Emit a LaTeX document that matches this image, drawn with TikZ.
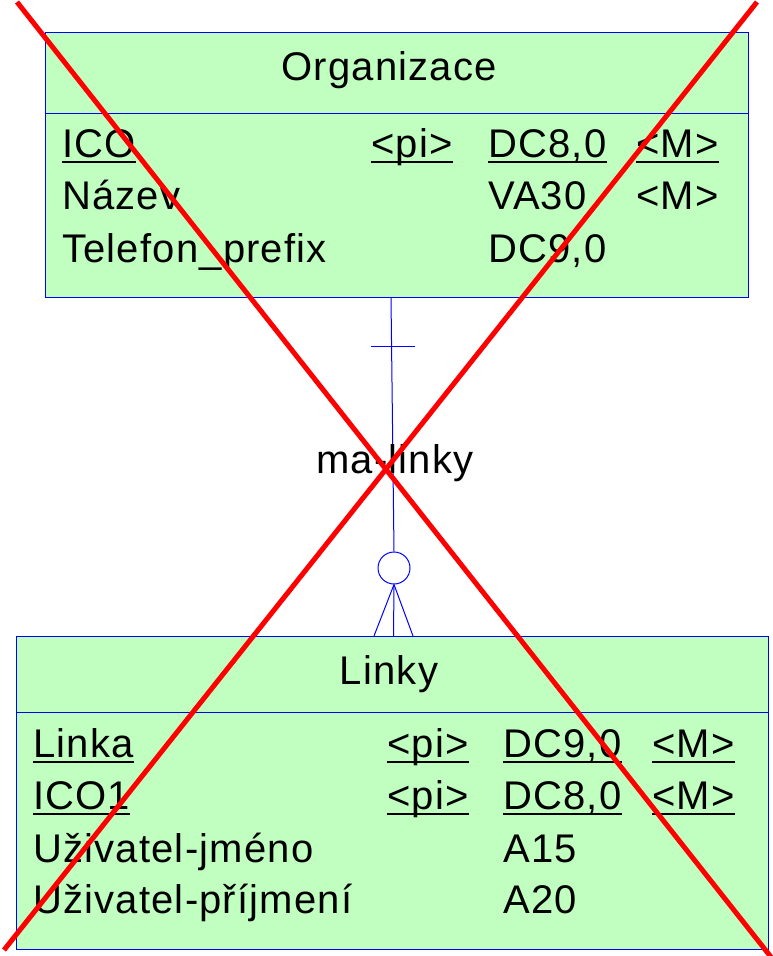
\documentclass[tikz,border=0pt]{standalone}
\usepackage{fontspec}
\setmainfont{Liberation Sans}[LetterSpace=3]
\definecolor{egreen}{RGB}{192,255,192}
\begin{document}
\begin{tikzpicture}[x=1pt,y=-1pt,
  entity/.style={draw=blue, line width=1pt, fill=egreen, inner sep=0pt, anchor=north west},
  txt/.style={anchor=base west, inner sep=0pt, font=\fontsize{40}{48}\selectfont},
  ttl/.style={txt, anchor=base},
  ul/.style={line width=2.5pt},
  conn/.style={draw=blue, line width=1pt},
  sepline/.style={draw=blue, line width=1pt},
  cross/.style={draw=red, line width=5pt}]
\useasboundingbox (0,0) rectangle (772,956);
% entities
\node[entity, minimum width=703pt, minimum height=265pt] (org) at (45,32) {};
\node[entity, minimum width=752pt, minimum height=313pt] (lin) at (16,636) {};
\coordinate (os) at (0,113);
\coordinate (ls) at (0,712);
\draw[sepline] (org.west |- os) -- (org.east |- os);
\draw[sepline] (lin.west |- ls) -- (lin.east |- ls);
% Organizace
\node[ttl] (orgt) at (389,80) {Organizace};
\node[txt] (o11) at (62,157) {ICO};
\node[txt] (o12) at (371,157) {<pi>};
\node[txt] (o13) at (488,157) {DC8,0};
\node[txt] (o14) at (636,157) {<M>};
\node[txt] (o21) at (62,209.5) {Název};
\node[txt] (o23) at (488,209.5) {VA30};
\node[txt] (o24) at (636,209.5) {<M>};
\node[txt] (o31) at (62,262) {Telefon\_prefix};
\node[txt] (o33) at (488,262) {DC9,0};
\foreach \n in {o11,o12,o13,o14}
  \draw[ul] ([yshift=-5pt]\n.base west) -- ([yshift=-5pt]\n.base east);
% Linky
\node[ttl] (lint) at (389,684) {Linky};
\node[txt] (l11) at (33,757) {Linka};
\node[txt] (l12) at (387,757) {<pi>};
\node[txt] (l13) at (503,757) {DC9,0};
\node[txt] (l14) at (652,757) {<M>};
\node[txt] (l21) at (33,809) {ICO1};
\node[txt] (l22) at (387,809) {<pi>};
\node[txt] (l23) at (503,809) {DC8,0};
\node[txt] (l24) at (652,809) {<M>};
\node[txt] (l31) at (33,862) {Uživatel-jméno};
\node[txt] (l33) at (503,862) {A15};
\node[txt] (l41) at (33,913) {Uživatel-příjmení};
\node[txt] (l43) at (503,913) {A20};
\foreach \n in {l11,l12,l13,l14,l21,l22,l23,l24}
  \draw[ul] ([yshift=-5pt]\n.base west) -- ([yshift=-5pt]\n.base east);
% relationship
\coordinate (top) at (391,0);
\coordinate (tk) at (393,346);
\coordinate (f1) at (374,0);
\coordinate (f2) at (413,0);
\coordinate (f3) at (393.5,0);
\node[circle, draw=blue, line width=1pt, minimum size=32pt, inner sep=0pt] (circ) at (394,568) {};
\draw[conn] (org.south -| top) -- (circ.north);
\draw[conn] ([xshift=-22pt]tk) -- ([xshift=22pt]tk);
\draw[conn] (circ.south) -- (lin.north -| f1);
\draw[conn] (circ.south) -- (lin.north -| f2);
\draw[conn] (circ.south) -- (lin.north -| f3);
\node[txt] (rel) at (316,473) {ma-linky};
% red cross
\coordinate (x1a) at (17,2);
\coordinate (x1b) at (771,957);
\coordinate (x2a) at (757,2);
\coordinate (x2b) at (4,950);
\draw[cross] (x1a) -- (x1b);
\draw[cross] (x2a) -- (x2b);
\end{tikzpicture}
\end{document}
